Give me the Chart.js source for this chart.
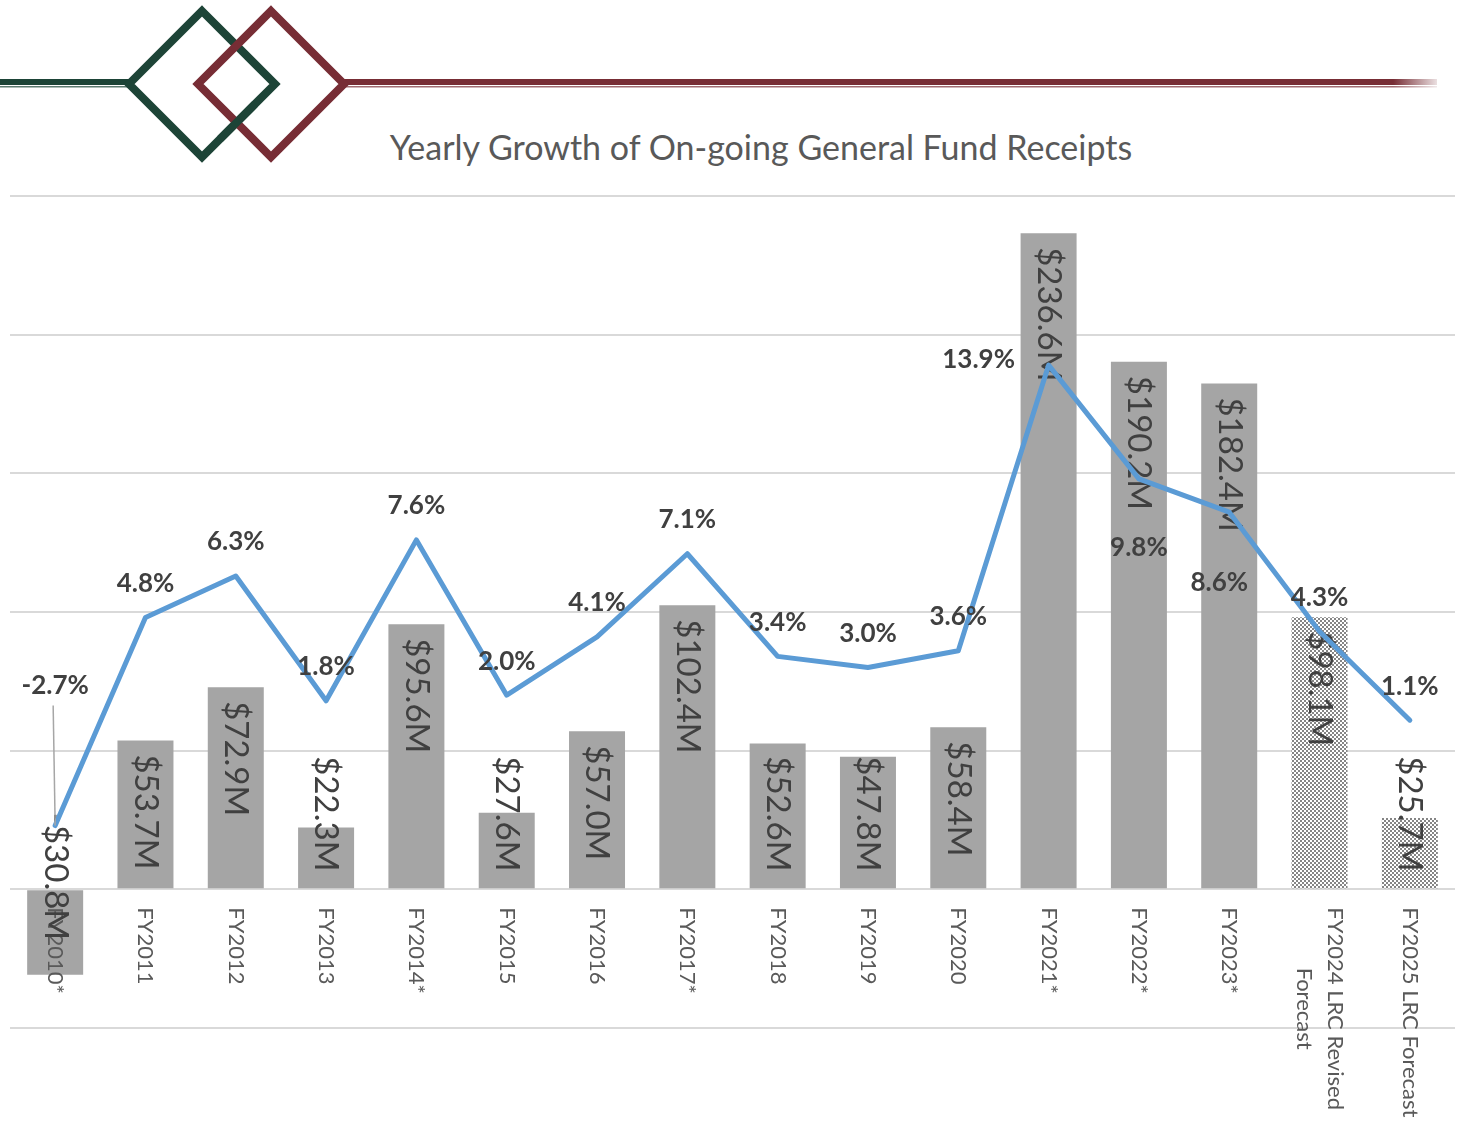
<!DOCTYPE html>
<html>
<head>
<meta charset="utf-8">
<script src="https://cdn.jsdelivr.net/npm/chart.js@4"></script>
<style>
  html, body { margin: 0; padding: 0; background: #fff; }
  #wrap { position: relative; width: 1460px; height: 1129px; overflow: hidden; }
  #banner { position: absolute; left: 0; top: 0; }
  #title {
    position: absolute; left: 761px; top: 127px; transform: translateX(-50%);
    font-family: Lato, "Open Sans", sans-serif; font-size: 34px; color: #595959;
    white-space: nowrap; line-height: 40px;
  }
  #chartBox { position: absolute; left: 0; top: 0; width: 1460px; height: 1129px; }
</style>
</head>
<body>
<div id="wrap">
  <svg id="banner" width="1460" height="170">
    <defs>
      <linearGradient id="fadeRed" x1="0" x2="1" y1="0" y2="0">
        <stop offset="0" stop-color="#772d35"/>
        <stop offset="0.96" stop-color="#772d35"/>
        <stop offset="1" stop-color="#772d35" stop-opacity="0.15"/>
      </linearGradient>
    </defs>
    <!-- rule lines either side of the diamonds -->
    <rect x="0" y="79" width="130" height="6" fill="#1d4437"/>
    <rect x="0" y="86" width="130" height="1.5" fill="#5d7a70"/>
    <rect x="342" y="79" width="1095" height="6" fill="url(#fadeRed)"/>
    <rect x="342" y="86" width="1095" height="1.5" fill="url(#fadeRed)" opacity="0.7"/>
    <!-- interlocked diamonds -->
    <polygon points="202,11 275,84 202,157 129,84" fill="none" stroke="#1d4437" stroke-width="8"/>
    <polygon points="271,11 344,84 271,157 198,84" fill="none" stroke="#772d35" stroke-width="8"/>
    <line x1="255" y1="104" x2="220" y2="139" stroke="#1d4437" stroke-width="8"/>
  </svg>
  <div id="title">Yearly Growth of On-going General Fund Receipts</div>
  <div id="chartBox"><canvas id="growthChart"></canvas></div>
</div>
<script>
// fiscal years, receipts growth ($M) and growth rate (%)
var categories = ['FY2010*', 'FY2011', 'FY2012', 'FY2013', 'FY2014*', 'FY2015', 'FY2016', 'FY2017*',
  'FY2018', 'FY2019', 'FY2020', 'FY2021*', 'FY2022*', 'FY2023*',
  ['FY2024 LRC Revised', 'Forecast'], 'FY2025 LRC Forecast'];
var growthDollars = [-30.8, 53.7, 72.9, 22.3, 95.6, 27.6, 57.0, 102.4, 52.6, 47.8, 58.4, 236.6, 190.2, 182.4, 98.1, 25.7];
var growthPercent = [-2.7, 4.8, 6.3, 1.8, 7.6, 2.0, 4.1, 7.1, 3.4, 3.0, 3.6, 13.9, 9.8, 8.6, 4.3, 1.1];

// where each percent label sits relative to its point
var pctLabelSpot = ['leader', 'above', 'above', 'above', 'above', 'above', 'above', 'above',
  'above', 'above', 'above', 'left', 'below', 'belowLeft', 'above', 'above'];

var isForecast = categories.map(function (c) { return [].concat(c).join(' ').indexOf('Forecast') >= 0; });

// checker pattern for forecast bars
function checkerPattern() {
  var tile = document.createElement('canvas');
  tile.width = 4; tile.height = 4;
  var t = tile.getContext('2d');
  t.fillStyle = '#ffffff';
  t.fillRect(0, 0, 4, 4);
  t.fillStyle = '#858585';
  t.fillRect(0, 0, 2, 2);
  t.fillRect(2, 2, 2, 2);
  return t.createPattern(tile, 'repeat');
}
var hatch = checkerPattern();

var FONT = 'Lato, "Open Sans", sans-serif';

var valueLabels = {
  id: 'valueLabels',
  afterDatasetDraw: function (chart, args) {
    if (args.index !== 0) return;
    var ctx = chart.ctx;
    var meta = chart.getDatasetMeta(0);
    var xs = chart.scales.x;
    var zeroY = chart.scales.y.getPixelForValue(0);
    ctx.save();

    // category labels, rotated to read downward
    ctx.fillStyle = '#595959';
    ctx.font = '22px ' + FONT;
    ctx.textAlign = 'center';
    ctx.textBaseline = 'middle';
    categories.forEach(function (c, i) {
      var lines = [].concat(c);
      var maxW = Math.max.apply(null, lines.map(function (l) { return ctx.measureText(l).width; }));
      ctx.save();
      ctx.translate(xs.getPixelForValue(i), zeroY + 18);
      ctx.rotate(Math.PI / 2);
      lines.forEach(function (l, k) {
        ctx.fillText(l, maxW / 2, (k - (lines.length - 1) / 2) * 31);
      });
      ctx.restore();
    });

    // dollar labels inside the bars
    ctx.fillStyle = '#404040';
    ctx.font = '33px ' + FONT;
    ctx.textAlign = 'left';
    meta.data.forEach(function (bar, i) {
      var v = growthDollars[i];
      var txt = (v < 0 ? '-$' : '$') + Math.abs(v).toFixed(1) + 'M';
      var w = ctx.measureText(txt).width;
      var start;
      if (v < 0) {
        start = bar.base - 14 - w / 2;
      } else {
        start = bar.y + 14;
        if (start + w > bar.base - 17) start = bar.base - 17 - w;
      }
      ctx.save();
      ctx.translate(bar.x, start);
      ctx.rotate(Math.PI / 2);
      ctx.fillText(txt, 0, 0);
      ctx.restore();
    });
    ctx.restore();
  },
  afterDatasetsDraw: function (chart) {
    var ctx = chart.ctx;
    var meta = chart.getDatasetMeta(1);
    ctx.save();
    ctx.font = 'bold 26px ' + FONT;
    ctx.fillStyle = '#404040';
    ctx.textAlign = 'center';
    ctx.textBaseline = 'middle';
    meta.data.forEach(function (pt, i) {
      var txt = growthPercent[i].toFixed(1) + '%';
      var dx = 0, dy = -34;
      switch (pctLabelSpot[i]) {
        case 'left': dx = -70; dy = -6; break;
        case 'below': dy = 69; break;
        case 'belowLeft': dx = -10; dy = 70; break;
        case 'leader': dy = -140; break;
      }
      if (pctLabelSpot[i] === 'leader') {
        ctx.strokeStyle = '#a6a6a6';
        ctx.lineWidth = 1.5;
        ctx.beginPath();
        ctx.moveTo(pt.x - 2, pt.y + dy + 20);
        ctx.lineTo(pt.x, pt.y);
        ctx.stroke();
      }
      ctx.fillText(txt, pt.x + dx, pt.y + dy);
    });
    ctx.restore();
  }
};

var ctx = document.getElementById('growthChart').getContext('2d');
var growthChart = new Chart(ctx, {
  data: {
    labels: categories,
    datasets: [{
      type: 'bar',
      label: 'Growth ($M)',
      data: growthDollars,
      yAxisID: 'y',
      backgroundColor: isForecast.map(function (f) { return f ? hatch : '#a5a5a5'; }),
      barPercentage: 0.62,
      categoryPercentage: 1,
      order: 1
    }, {
      type: 'line',
      label: 'Growth (%)',
      data: growthPercent,
      yAxisID: 'y1',
      borderColor: '#5b9bd5',
      borderWidth: 5,
      borderCapStyle: 'round',
      borderJoinStyle: 'round',
      pointRadius: 0,
      tension: 0,
      order: 0
    }]
  },
  options: {
    responsive: true,
    maintainAspectRatio: false,
    animation: false,
    devicePixelRatio: 1,
    layout: { padding: { top: 196, bottom: 101, left: 10, right: 5 } },
    plugins: { legend: { display: false }, tooltip: { enabled: false } },
    scales: {
      x: { display: false, offset: true },
      y: {
        min: -50, max: 250,
        ticks: { stepSize: 50, display: false },
        grid: { color: '#d9d9d9', lineWidth: 2, drawTicks: false },
        border: { display: false }
      },
      y1: { position: 'right', min: -10, max: 20, display: false, grid: { display: false } }
    }
  },
  plugins: [valueLabels]
});
</script>
</body>
</html>
